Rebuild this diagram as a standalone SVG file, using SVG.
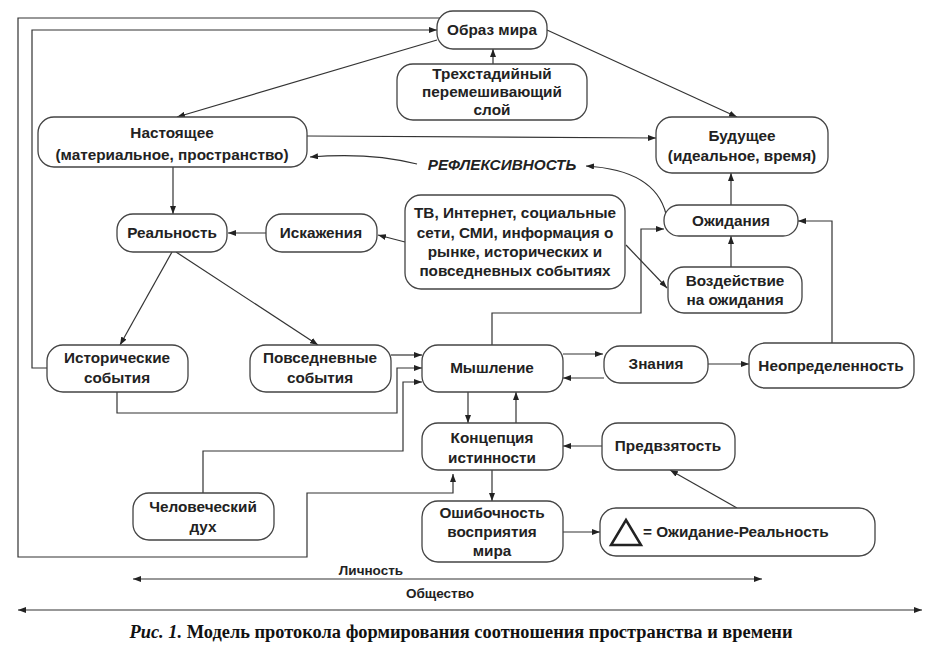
<svg xmlns="http://www.w3.org/2000/svg" width="940" height="650" viewBox="0 0 940 650">
<defs>
<marker id="a" markerUnits="userSpaceOnUse" markerWidth="8" markerHeight="6" refX="8" refY="3" orient="auto-start-reverse"><path d="M0,0 L8,3 L0,6 Z" fill="#222"/></marker>
<style>
.n rect{fill:#fff;stroke:#444;stroke-width:1.3}
.n text,.t{font-family:"Liberation Sans",Arial,sans-serif;font-weight:bold;font-size:15.3px;fill:#222;text-anchor:middle}
#conn path,#conn line{fill:none;stroke:#333;stroke-width:1.2}
.m{marker-end:url(#a)}
</style>
</defs>
<rect width="940" height="650" fill="#fff"/>
<g id="conn">
<path d="M440,18 H18 V557 H307 V493 H453 V474" class="m"/>
<path d="M47,368 H32 V30 H437" class="m"/>
<path d="M493,64 V49" class="m"/>
<path d="M437,40 L177,117" class="m"/>
<path d="M547,30 L737,117" class="m"/>
<path d="M307,136 L656,138" class="m"/>
<path d="M417,164 Q370,152 310,157" class="m"/>
<path d="M666,214 Q655,170 586,166" class="m"/>
<path d="M731,205 V173" class="m"/>
<path d="M731,267 V236" class="m"/>
<path d="M832,343 V221 H798" class="m"/>
<path d="M708,364 H749" class="m"/>
<path d="M563,354 H603" class="m"/>
<path d="M604,378 H563" class="m"/>
<path d="M492,345 V313 H641 V229 H664" class="m"/>
<path d="M405,242 L378,235" class="m"/>
<path d="M626,245 L667,288" class="m"/>
<path d="M266,233 H228" class="m"/>
<path d="M173,167 V214" class="m"/>
<path d="M172,252 L120,345" class="m"/>
<path d="M176,252 L318,345" class="m"/>
<path d="M391,355 H422" class="m"/>
<path d="M117,392 V413 H397 V368 H422" class="m"/>
<path d="M203,493 V451 H403 V382 H422" class="m"/>
<path d="M468,392 V423" class="m"/>
<path d="M516,423 V392" class="m"/>
<path d="M602,446 H563" class="m"/>
<path d="M492,470 V501" class="m"/>
<path d="M563,532 H600" class="m"/>
<path d="M737,508 L670,470" class="m"/>
<path d="M133,579 H762" marker-start="url(#a)" class="m"/>
<path d="M18,610 H922" marker-start="url(#a)" class="m"/>
</g>
<g id="obraz" class="n"><rect x="437" y="11" width="110" height="38" rx="16"/><text x="492" y="35">Образ мира</text></g>
<g id="trekh" class="n"><rect x="397" y="64" width="190" height="56" rx="16"/><text x="492" y="79">Трехстадийный</text><text x="492" y="97">перемешивающий</text><text x="492" y="115">слой</text></g>
<g id="nastoyaschee" class="n"><rect x="38" y="117" width="269" height="50" rx="16"/><text x="172" y="138">Настоящее</text><text x="172" y="160">(материальное, пространство)</text></g>
<g id="buduschee" class="n"><rect x="656" y="117" width="172" height="56" rx="16"/><text x="742" y="141">Будущее</text><text x="742" y="161">(идеальное, время)</text></g>
<text class="t" x="502" y="170" style="font-style:italic">РЕФЛЕКСИВНОСТЬ</text>
<g id="ozhidaniya" class="n"><rect x="664" y="205" width="134" height="31" rx="15"/><text x="731" y="226">Ожидания</text></g>
<g id="tv" class="n"><rect x="405" y="195" width="220" height="94" rx="16"/><text x="515" y="218">ТВ, Интернет, социальные</text><text x="515" y="238">сети, СМИ, информация о</text><text x="515" y="257">рынке, исторических и</text><text x="515" y="276">повседневных событиях</text></g>
<g id="iskazheniya" class="n"><rect x="266" y="214" width="111" height="38" rx="16"/><text x="321" y="238">Искажения</text></g>
<g id="realnost" class="n"><rect x="117" y="214" width="110" height="38" rx="16"/><text x="172" y="238">Реальность</text></g>
<g id="vozdeistvie" class="n"><rect x="668" y="267" width="134" height="46" rx="16"/><text x="735" y="286">Воздействие</text><text x="735" y="305">на ожидания</text></g>
<g id="istoricheskie" class="n"><rect x="47" y="345" width="141" height="47" rx="16"/><text x="117" y="363">Исторические</text><text x="117" y="383">события</text></g>
<g id="povsednevnye" class="n"><rect x="250" y="345" width="141" height="47" rx="16"/><text x="320" y="363">Повседневные</text><text x="320" y="383">события</text></g>
<g id="myshlenie" class="n"><rect x="422" y="345" width="141" height="47" rx="16"/><text x="492" y="373">Мышление</text></g>
<g id="znaniya" class="n"><rect x="604" y="346" width="104" height="37" rx="16"/><text x="656" y="369">Знания</text></g>
<g id="neopredelennost" class="n"><rect x="749" y="343" width="165" height="45" rx="16"/><text x="831" y="371">Неопределенность</text></g>
<g id="koncepciya" class="n"><rect x="422" y="423" width="141" height="47" rx="16"/><text x="492" y="443">Концепция</text><text x="492" y="463">истинности</text></g>
<g id="predvzyatost" class="n"><rect x="602" y="423" width="133" height="47" rx="16"/><text x="668" y="451">Предвзятость</text></g>
<g id="chelovecheskiy" class="n"><rect x="133" y="493" width="141" height="47" rx="16"/><text x="203" y="512">Человеческий</text><text x="203" y="532">дух</text></g>
<g id="oshibochnost" class="n"><rect x="422" y="501" width="141" height="61" rx="16"/><text x="492" y="518">Ошибочность</text><text x="492" y="537">восприятия</text><text x="492" y="556">мира</text></g>
<g id="delta" class="n"><rect x="600" y="508" width="275" height="48" rx="16"/><path d="M611,545 L641,545 L626,520 Z" fill="none" stroke="#222" stroke-width="2.5"/><text x="643" y="537" style="text-anchor:start">= Ожидание-Реальность</text></g>
<text class="t" x="371" y="575" style="font-size:13.5px">Личность</text>
<text class="t" x="440" y="598" style="font-size:13.5px">Общество</text>
<text x="461" y="638" style="font-family:'Liberation Serif','Times New Roman',serif;font-weight:bold;font-size:18.5px;fill:#111;text-anchor:middle" textLength="663" lengthAdjust="spacingAndGlyphs"><tspan style="font-style:italic">Рис. 1.</tspan> Модель протокола формирования соотношения пространства и времени</text>
</svg>
